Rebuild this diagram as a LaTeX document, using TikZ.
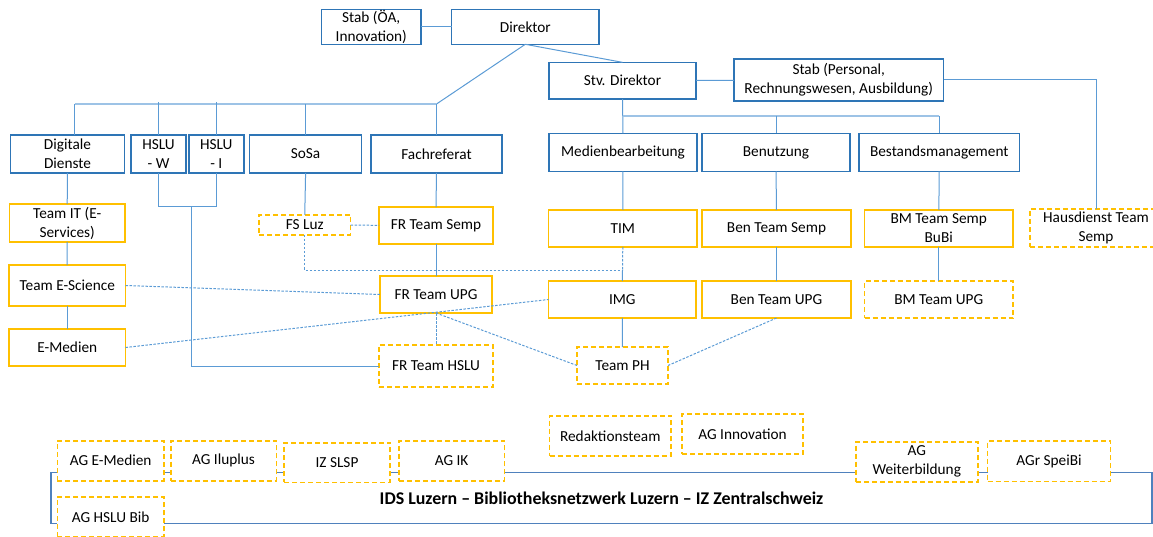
\documentclass[tikz,border=0pt]{standalone}
\usepackage{fontspec}
\setmainfont{Carlito}
\usetikzlibrary{calc}
\definecolor{boxblue}{HTML}{2E75B6}
\definecolor{connblue}{HTML}{5B9BD5}
\definecolor{busblue}{HTML}{9DC3E6}
\definecolor{gold}{HTML}{FFC000}
\definecolor{frameblue}{HTML}{4F81BD}
\tikzset{
  base/.style={rectangle, inner sep=0pt, outer sep=0pt, align=center, fill=white,
    font=\fontsize{15.3}{19}\selectfont},
  bbox/.style={base, draw=boxblue, line width=1.5pt},
  obox/.style={base, draw=gold, line width=1.6pt},
  dbox/.style={base, draw=gold, line width=1.6pt, dash pattern=on 5pt off 3pt},
  conn/.style={draw=connblue, line width=1pt},
  bus/.style={draw=busblue, line width=1.8pt},
  dotc/.style={draw=connblue, line width=1pt, dash pattern=on 2.5pt off 1.5pt},
  frame/.style={rectangle, draw=frameblue, line width=1.5pt, inner sep=0pt, outer sep=0pt,
    font=\fontsize{17.9}{21}\selectfont\bfseries}
}
\begin{document}
\begin{tikzpicture}[x=1pt,y=-1pt]
\useasboundingbox (0,0) rectangle (1153,537);
% top level
\node[bbox, minimum width=99.5, minimum height=35] (stabOA) at (371.25,26.8) {Stab (ÖA,\\Innovation)};
\node[bbox, minimum width=147.4, minimum height=35] (dir) at (525.3,26.8) {Direktor};
\node[bbox, minimum width=147, minimum height=36.7] (stv) at (622.5,80.7) {Stv. Direktor};
\node[bbox, minimum width=209.5, minimum height=42] (stabP) at (838.75,80) {Stab (Personal,\\Rechnungswesen, Ausbildung)};
% departments
\node[bbox, minimum width=113.7, minimum height=38] (dd) at (67.5,154) {Digitale\\Dienste};
\node[bbox, minimum width=55, minimum height=38] (hw) at (158.5,154) {HSLU\\- W};
\node[bbox, minimum width=55, minimum height=38] (hi) at (216.25,154) {HSLU\\- I};
\node[bbox, minimum width=112.2, minimum height=38] (sosa) at (305.6,154) {SoSa};
\node[bbox, minimum width=131, minimum height=38] (fach) at (436.5,154) {Fachreferat};
\node[bbox, minimum width=148, minimum height=38] (med) at (623,152.5) {Medienbearbeitung};
\node[bbox, minimum width=148, minimum height=38] (ben) at (776,152.5) {Benutzung};
\node[bbox, minimum width=160.6, minimum height=38] (best) at (939.3,152.5) {Bestandsmanagement};
% teams
\node[obox, minimum width=115.2, minimum height=38] (tit) at (67.2,223) {Team IT (E-\\Services)};
\node[obox, minimum width=116.5, minimum height=41] (tes) at (67.25,285.5) {Team E-Science};
\node[obox, minimum width=116.5, minimum height=37] (tem) at (67.25,347.5) {E-Medien};
\node[dbox, minimum width=91.5, minimum height=20] (fsluz) at (304.75,225) {FS Luz};
\node[obox, minimum width=114, minimum height=37] (frs) at (436,225.5) {FR Team Semp};
\node[obox, minimum width=112, minimum height=37] (fru) at (436,294.5) {FR Team UPG};
\node[dbox, minimum width=114, minimum height=42] (frh) at (436,366) {FR Team HSLU};
\node[obox, minimum width=148.4, minimum height=37] (tim) at (622.8,228.5) {TIM};
\node[obox, minimum width=149, minimum height=37] (bts) at (776.5,228.5) {Ben Team Semp};
\node[obox, minimum width=148.5, minimum height=37] (bmsb) at (938.75,228.5) {BM Team Semp\\BuBi};
\node[dbox, minimum width=132, minimum height=38] (haus) at (1096,228) {Hausdienst Team\\Semp};
\node[obox, minimum width=147.4, minimum height=37] (img) at (622.3,299.5) {IMG};
\node[obox, minimum width=149, minimum height=37] (btu) at (776.5,299.5) {Ben Team UPG};
\node[dbox, minimum width=148.5, minimum height=37] (bmu) at (938.75,299.5) {BM Team UPG};
\node[dbox, minimum width=91, minimum height=37] (tph) at (622.5,365.5) {Team PH};
% connectors top
\coordinate (b0) at (74.6,104);
\coordinate (b1) at (436.5,104);
\coordinate (b2) at (939.3,115.7);
\draw[conn] (stabOA) -- (dir);
\draw[conn] (dir.south) -- (b1);
\draw[conn] (dir.south) -- (stv.north);
\draw[conn] (stv) -- (stabP);
\draw[conn] (stabP.east) -| (haus.north);
\draw[bus] (b0) -- (b1);
\draw[conn] (b0) -- (b0 |- dd.north);
\draw[conn] (hw.north) -- ($(hw.north |- b1)+(0,-2)$);
\draw[conn] (hi.north) -- ($(hi.north |- b1)+(0,-2)$);
\draw[conn] (sosa.north) -- (sosa.north |- b1);
\draw[conn] (b1) -- (fach.north);
\draw[conn] (stv.south) -- (med.north);
\draw[bus] (stv.south |- b2) -- (b2);
\draw[conn] (ben.north |- b2) -- (ben.north);
\draw[conn] (b2) -- (best.north);
% left column
\draw[conn] (dd.south) -- (tit.north);
\draw[conn] (tit) -- (tes);
\draw[conn] (tes) -- (tem);
\coordinate (hb) at (191,207);
\draw[conn] (hw.south) -- (hw.south |- hb) -- (hi.south |- hb) -- (hi.south);
\draw[conn] (hb) |- (frh.west);
\draw[conn] (sosa.south) -- (fsluz.north);
\draw[dotc] (fsluz) -- (frs);
\coordinate (j1) at (622.5,270);
\draw[dotc] (fsluz.south) |- (j1);
\draw[dotc] (tim.south) -- (j1);
\draw[conn] (j1) -- (img.north);
\draw[conn] (fach) -- (frs);
\draw[conn] (frs) -- (fru);
\draw[dotc] (tes.east) -- (fru.west);
\draw[dotc] (tem.east) -- (img.west);
\draw[dotc] (fru.south) -- (frh.north);
\draw[dotc] (fru.south) -- (tph.west);
\draw[dotc] (btu.south) -- (tph.east);
\draw[conn] (img) -- (tph);
\draw[conn] (med) -- (tim);
\draw[conn] (ben) -- (bts);
\draw[conn] (bts) -- (btu);
\draw[conn] (best) -- (bmsb);
\draw[conn] (bmsb) -- (bmu);
% bottom
\node[frame, minimum width=1101, minimum height=50.6] (ids) at (601.5,498) {IDS Luzern – Bibliotheksnetzwerk Luzern – IZ Zentralschweiz};
\node[dbox, minimum width=121.4, minimum height=40.3] (redak) at (610.3,435.85) {Redaktionsteam};
\node[dbox, minimum width=121, minimum height=40] (aginn) at (742.5,434) {AG Innovation};
\node[dbox, minimum width=106.4, minimum height=40] (agem) at (110.6,460.7) {AG E-Medien};
\node[dbox, minimum width=105.6, minimum height=40] (agilu) at (223.5,460.7) {AG Iluplus};
\node[dbox, minimum width=106, minimum height=39.6] (izslsp) at (337,462.5) {IZ SLSP};
\node[dbox, minimum width=105.6, minimum height=40] (agik) at (451.6,460.7) {AG IK};
\node[dbox, minimum width=106.4, minimum height=40] (aghslu) at (110.6,517) {AG HSLU Bib};
\node[dbox, minimum width=122, minimum height=40] (agweit) at (916.75,461.7) {AG\\Weiterbildung};
\node[dbox, minimum width=122.7, minimum height=40.6] (agspei) at (1049,461) {AGr SpeiBi};
\end{tikzpicture}
\end{document}
